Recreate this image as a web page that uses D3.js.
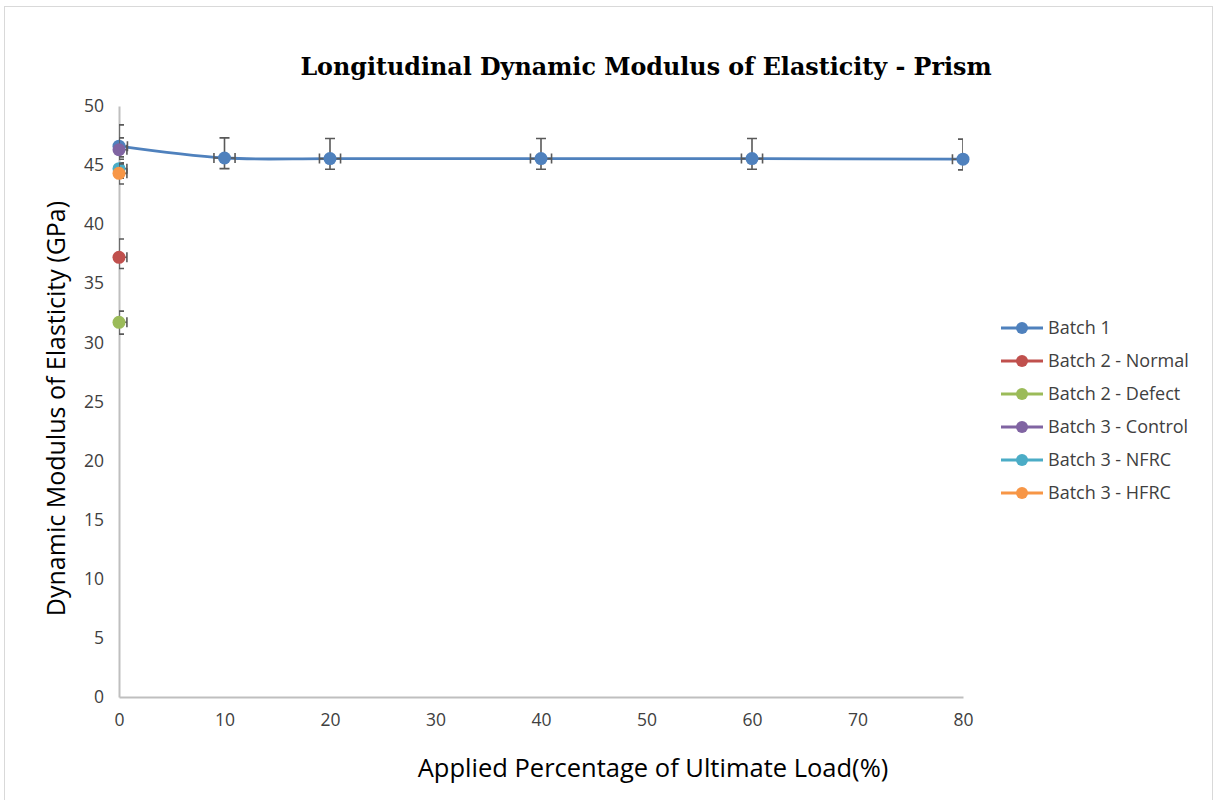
<!DOCTYPE html>
<html>
<head>
<meta charset="utf-8">
<script src="https://cdn.jsdelivr.net/npm/d3@7"></script>
<style>
  html, body { margin: 0; padding: 0; background: #fff; }
  svg { display: block; }
</style>
</head>
<body>
<svg id="chart" width="1217" height="800"></svg>
<script>
// series names and colours (Excel 2010 palette)
const seriesNames = ["Batch 1", "Batch 2 - Normal", "Batch 2 - Defect", "Batch 3 - Control", "Batch 3 - NFRC", "Batch 3 - HFRC"];
const seriesColors = ["#4f81bd", "#c0504d", "#9bbb59", "#8064a2", "#4bacc6", "#f79646"];

// Batch 1 loading steps
const batch1Load = [0, 10, 20, 40, 60, 80];
const batch1Modulus = [46.6, 45.6, 45.55, 45.55, 45.55, 45.5];
const batch1ErrUp = [1.8, 1.7, 1.7, 1.7, 1.7, 1.7];
const batch1ErrDown = [0.9, 0.9, 0.9, 0.9, 0.9, 0.9];
const batch1ErrX = [0.8, 1, 1, 1, 1, 1];

// other batches, measured at 0 % load only
const otherModulus = [37.2, 31.7, 46.3, 44.7, 44.3];
const otherErrUp = [1.55, 0.95, 1.0, 0.5, 0.8];
const otherErrDown = [0.95, 1.0, 0.8, 0.8, 0.9];
const otherErrX = [0.75, 0.75, 0.75, 0.75, 0.75];

const xTicks = [0, 10, 20, 30, 40, 50, 60, 70, 80];
const yTicks = [0, 5, 10, 15, 20, 25, 30, 35, 40, 45, 50];

const svg = d3.select("#chart");
const font = "'Open Sans', 'Liberation Sans', sans-serif";
const axisGray = "#bfbfbf";
const errGray = "#595959";

// outer chart frame
svg.append("rect")
  .attr("x", 4.5).attr("y", 6.5)
  .attr("width", 1208).attr("height", 800)
  .attr("fill", "#fff").attr("stroke", "#d9d9d9").attr("stroke-width", 1);

const x = d3.scaleLinear().domain([0, 80]).range([119, 963]);
const y = d3.scaleLinear().domain([0, 50]).range([697, 106]);

// title
svg.append("text")
  .attr("x", 646).attr("y", 75)
  .attr("text-anchor", "middle")
  .attr("font-family", "'DejaVu Serif', serif")
  .attr("font-weight", "bold")
  .attr("font-size", 23.8)
  .attr("fill", "#000")
  .text("Longitudinal Dynamic Modulus of Elasticity - Prism");

// axes
const xAxis = svg.append("g")
  .attr("transform", `translate(0,${y(0)})`)
  .call(d3.axisBottom(x).tickValues(xTicks).tickSize(0).tickPadding(17));
const yAxis = svg.append("g")
  .attr("transform", `translate(${x(0)},0)`)
  .call(d3.axisLeft(y).tickValues(yTicks).tickSize(0).tickPadding(15));

for (const g of [xAxis, yAxis]) {
  g.select(".domain").attr("stroke", axisGray).attr("stroke-width", 2);
  g.selectAll("text")
    .attr("font-family", font)
    .attr("font-size", 17.5)
    .attr("fill", "#404040");
}

svg.append("text")
  .attr("x", 653).attr("y", 777)
  .attr("text-anchor", "middle")
  .attr("font-family", font)
  .attr("font-size", 25.5)
  .attr("fill", "#000")
  .text("Applied Percentage of Ultimate Load(%)");

svg.append("text")
  .attr("transform", `translate(65,${(106 + 697) / 2 + 7}) rotate(-90)`)
  .attr("text-anchor", "middle")
  .attr("font-family", font)
  .attr("font-size", 25)
  .attr("fill", "#000")
  .text("Dynamic Modulus of Elasticity (GPa)");

// plot area clip for error bars
svg.append("clipPath").attr("id", "plotClip")
  .append("rect")
  .attr("x", x(0)).attr("y", y(50) - 2)
  .attr("width", x(80) - x(0)).attr("height", y(0) - y(50) + 2);

// assemble series rows
const series = seriesNames.map((name, i) => {
  if (i === 0) {
    return {
      name, color: seriesColors[i],
      points: batch1Load.map((l, j) => ({
        x: l, y: batch1Modulus[j], up: batch1ErrUp[j], down: batch1ErrDown[j], ex: batch1ErrX[j],
      })),
    };
  }
  const k = i - 1;
  return {
    name, color: seriesColors[i],
    points: [{x: 0, y: otherModulus[k], up: otherErrUp[k], down: otherErrDown[k], ex: otherErrX[k]}],
  };
});

const line = d3.line()
  .x((d) => x(d.x))
  .y((d) => y(d.y))
  .curve(d3.curveCatmullRom.alpha(0.5));

const cap = 5;
for (const s of series) {
  const g = svg.append("g");
  if (s.points.length > 1) {
    g.append("path")
      .attr("d", line(s.points))
      .attr("fill", "none")
      .attr("stroke", s.color)
      .attr("stroke-width", 2.8);
  }
  const eb = g.append("g")
    .attr("clip-path", "url(#plotClip)")
    .attr("stroke", errGray)
    .attr("stroke-width", 1.6)
    .attr("fill", "none");
  for (const p of s.points) {
    const cx = x(p.x), cy = y(p.y);
    const yt = y(p.y + p.up), yb = y(p.y - p.down);
    const xl = x(p.x - p.ex), xr = x(p.x + p.ex);
    eb.append("path").attr("d",
      `M${cx},${yt}V${yb}M${cx - cap},${yt}H${cx + cap}M${cx - cap},${yb}H${cx + cap}` +
      `M${xl},${cy}H${xr}M${xl},${cy - cap}V${cy + cap}M${xr},${cy - cap}V${cy + cap}`);
  }
  g.selectAll("circle")
    .data(s.points)
    .join("circle")
    .attr("cx", (d) => x(d.x))
    .attr("cy", (d) => y(d.y))
    .attr("r", 6.5)
    .attr("fill", s.color);
}

// legend
const legend = svg.append("g").attr("transform", "translate(1001,328)");
const rows = legend.selectAll("g")
  .data(series)
  .join("g")
  .attr("transform", (d, i) => `translate(0,${i * 33})`);
rows.append("line")
  .attr("x1", 0).attr("x2", 42)
  .attr("stroke", (d) => d.color)
  .attr("stroke-width", 2.8);
rows.append("circle")
  .attr("cx", 21).attr("r", 6)
  .attr("fill", (d) => d.color);
rows.append("text")
  .attr("x", 47).attr("dy", "0.35em")
  .attr("font-family", font)
  .attr("font-size", 18)
  .attr("fill", "#404040")
  .text((d) => d.name);
</script>
</body>
</html>
